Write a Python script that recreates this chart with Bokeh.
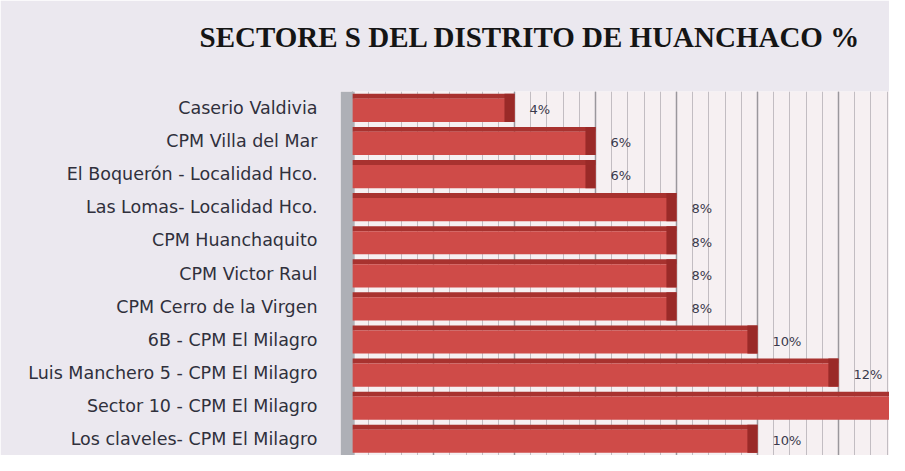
from bokeh.plotting import figure
from bokeh.models import FactorRange, SingleIntervalTicker, BoxAnnotation, ColumnDataSource, Grid, Title
from bokeh.transform import dodge
from bokeh.core.properties import value
from bokeh.embed import file_html
from bokeh.resources import INLINE

# ---- data ----
categories = [
    "Caserio Valdivia",
    "CPM Villa del Mar",
    "El Boquerón - Localidad Hco.",
    "Las Lomas- Localidad Hco.",
    "CPM Huanchaquito",
    "CPM Victor Raul",
    "CPM Cerro de la Virgen",
    "6B - CPM El Milagro",
    "Luis Manchero 5 - CPM El Milagro",
    "Sector 10 - CPM El Milagro",
    "Los claveles- CPM El Milagro",
]
percent = [4, 6, 6, 8, 8, 8, 8, 10, 12, 20, 10]
title_text = "SECTORE S DEL DISTRITO DE HUANCHACO  %"

X_START, X_END = -0.3, 13.26

# data labels: the one whose bar runs past the visible wall is not shown (as in the reference)
value_labels = [f"{v}%" if v < X_END - 0.8 else "" for v in percent]

source = ColumnDataSource(dict(
    cat=categories,
    val=percent,
    cap_left=[v - 0.25 for v in percent],
    lbl=value_labels,
))

p = figure(
    width=889, height=455,
    y_range=FactorRange(factors=categories[::-1]),
    x_range=(X_START, X_END),
    x_axis_location=None,
    output_backend="svg", toolbar_location=None,
    min_border_left=340, min_border_right=0,
    min_border_top=91, min_border_bottom=0,
    border_fill_color="#EBE8EF",
    background_fill_color="#F6F0F2",
    outline_line_color=None,
)

# spacer between frame and title (pushes the title up)
p.add_layout(Title(text=" ", text_font_size="20px", text_color="#EBE8EF"), "above")

# title
p.title.text = title_text
p.title.text_font = "Liberation Serif"
p.title.text_font_style = "bold"
p.title.text_font_size = "29px"
p.title.text_color = "#151515"
p.title.align = "left"
p.title.offset = -141

# grid on the back wall
g = Grid(dimension=0, ticker=SingleIntervalTicker(interval=2, num_minor_ticks=5),
         bounds=(0, 30),
         grid_line_color="#9A979C", grid_line_width=1.5,
         minor_grid_line_color="#C2BDC2", minor_grid_line_width=1)
p.add_layout(g)
p.ygrid.grid_line_color = None

# side wall
p.add_layout(BoxAnnotation(right=0.05, fill_color="#AEB0B6", fill_alpha=1, line_color=None, level="underlay"))

# y axis
ax = p.yaxis[0]
ax.axis_line_color = None
ax.major_tick_line_color = None
ax.minor_tick_line_color = None
ax.major_label_standoff = 17
ax.major_label_text_font = "DejaVu Sans"
ax.major_label_text_font_size = "17.5px"
ax.major_label_text_color = "#30303C"

# bars (pseudo 3D: top face, front face, end cap)
p.hbar(y=dodge("cat", 0.355, range=p.y_range), left=0, right="val", height=0.15,
       source=source, fill_color="#A8322F", line_color=None)
p.hbar(y=dodge("cat", -0.07, range=p.y_range), left=0, right="val", height=0.70,
       source=source, fill_color="#CF4B48", line_color=None)
p.hbar(y=dodge("cat", 0.005, range=p.y_range), left="cap_left", right="val", height=0.85,
       source=source, fill_color="#9A2A28", line_color=None)

p.text(x="val", y=dodge("cat", -0.05, range=p.y_range), text="lbl", source=source,
       x_offset=15, text_baseline="middle", text_align="left",
       text_font=value("DejaVu Sans"), text_font_size="13px", text_color="#3A3A4C")

open("out.html", "w").write(file_html(p, INLINE))
